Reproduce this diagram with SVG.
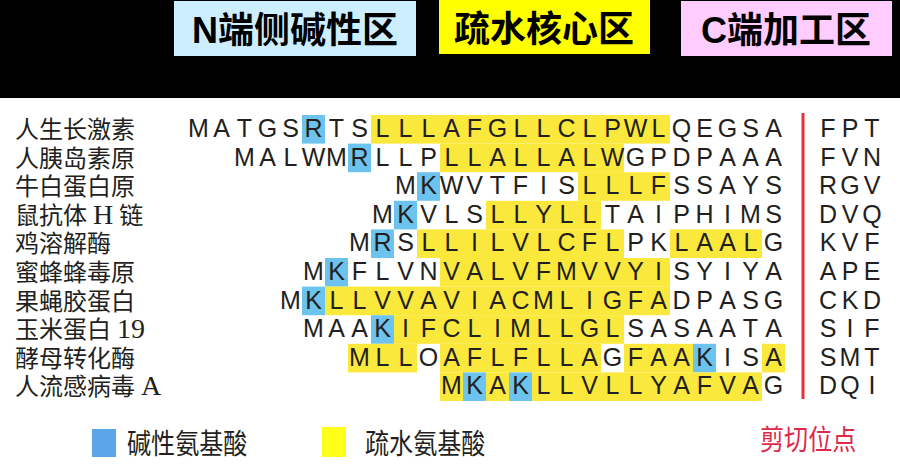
<svg xmlns="http://www.w3.org/2000/svg" width="900" height="471" viewBox="0 0 900 471">
<style>
.hd{font-family:"Liberation Sans","Noto Sans CJK SC",sans-serif;font-size:36px;font-weight:bold;fill:#000;text-anchor:middle}
.lb{font-family:"Liberation Serif","Noto Sans CJK SC",serif;font-size:24px;fill:#231f20}
.lt{font-size:28px}
.sq{font-family:"Liberation Sans",Arial,sans-serif;font-size:25px;fill:#231f20;text-anchor:middle}
.y{fill:#fbe83c}
.b{fill:#6cc4ee}
.lg{font-family:"Noto Sans CJK SC",sans-serif;font-size:28px;fill:#231f20}
</style>
<rect x="0" y="0" width="900" height="471" fill="#fff"/>
<rect x="0" y="0" width="900" height="98" fill="#000"/>
<g id="header-n"><rect x="174" y="1" width="242" height="55" fill="#cceeff"/><text class="hd" x="295" y="43">N端侧碱性区</text></g>
<g id="header-core"><rect x="439" y="0" width="211" height="54" fill="#ffff00"/><text class="hd" x="544" y="42">疏水核心区</text></g>
<g id="header-c"><rect x="681" y="1" width="211" height="55" fill="#ffccff"/><text class="hd" x="786" y="43">C端加工区</text></g>

<g id="row1" transform="translate(0,115)">
<rect class="y" x="371" y="0" width="299" height="28.6"/><rect class="b" x="302" y="0" width="23" height="28.6"/>
<text class="lb" x="15" y="23">人生长激素</text>
<text class="sq" y="22" x="198.5 221.5 244.5 267.5 290.5 313.5 336.5 359.5 382.5 405.5 428.5 451.5 474.5 497.5 520.5 543.5 566.5 589.5 612.5 635.5 658.5 681.5 704.5 727.5 750.5 773.5">MATGSRTSLLLAFGLLCLPWLQEGSA</text>
<text class="sq" y="22" x="828 850 872">FPT</text>
</g>
<g id="row2" transform="translate(0,143.6)">
<rect class="y" x="440" y="0" width="184" height="28.6"/><rect class="b" x="348" y="0" width="23" height="28.6"/>
<text class="lb" x="15" y="23">人胰岛素原</text>
<text class="sq" y="22" x="244.5 267.5 290.5 313.5 336.5 359.5 382.5 405.5 428.5 451.5 474.5 497.5 520.5 543.5 566.5 589.5 612.5 635.5 658.5 681.5 704.5 727.5 750.5 773.5">MALWMRLLPLLALLALWGPDPAAA</text>
<text class="sq" y="22" x="828 850 872">FVN</text>
</g>
<g id="row3" transform="translate(0,172.2)">
<rect class="y" x="578" y="0" width="92" height="28.6"/><rect class="b" x="417" y="0" width="23" height="28.6"/>
<text class="lb" x="15" y="23">牛白蛋白原</text>
<text class="sq" y="22" x="405.5 428.5 451.5 474.5 497.5 520.5 543.5 566.5 589.5 612.5 635.5 658.5 681.5 704.5 727.5 750.5 773.5">MKWVTFISLLLFSSAYS</text>
<text class="sq" y="22" x="828 850 872">RGV</text>
</g>
<g id="row4" transform="translate(0,200.8)">
<rect class="y" x="486" y="0" width="115" height="28.6"/><rect class="b" x="394" y="0" width="23" height="28.6"/>
<text class="lb" x="15" y="23">鼠抗体 <tspan class="lt">H</tspan> 链</text>
<text class="sq" y="22" x="382.5 405.5 428.5 451.5 474.5 497.5 520.5 543.5 566.5 589.5 612.5 635.5 658.5 681.5 704.5 727.5 750.5 773.5">MKVLSLLYLLTAIPHIMS</text>
<text class="sq" y="22" x="828 850 872">DVQ</text>
</g>
<g id="row5" transform="translate(0,229.4)">
<rect class="y" x="417" y="0" width="207" height="28.6"/><rect class="y" x="670" y="0" width="92" height="28.6"/><rect class="b" x="371" y="0" width="23" height="28.6"/>
<text class="lb" x="15" y="23">鸡溶解酶</text>
<text class="sq" y="22" x="359.5 382.5 405.5 428.5 451.5 474.5 497.5 520.5 543.5 566.5 589.5 612.5 635.5 658.5 681.5 704.5 727.5 750.5 773.5">MRSLLILVLCFLPKLAALG</text>
<text class="sq" y="22" x="828 850 872">KVF</text>
</g>
<g id="row6" transform="translate(0,258)">
<rect class="y" x="440" y="0" width="230" height="28.6"/><rect class="b" x="325" y="0" width="23" height="28.6"/>
<text class="lb" x="15" y="23">蜜蜂蜂毒原</text>
<text class="sq" y="22" x="313.5 336.5 359.5 382.5 405.5 428.5 451.5 474.5 497.5 520.5 543.5 566.5 589.5 612.5 635.5 658.5 681.5 704.5 727.5 750.5 773.5">MKFLVNVALVFMVVYISYIYA</text>
<text class="sq" y="22" x="828 850 872">APE</text>
</g>
<g id="row7" transform="translate(0,286.6)">
<rect class="y" x="325" y="0" width="345" height="28.6"/><rect class="b" x="302" y="0" width="23" height="28.6"/>
<text class="lb" x="15" y="23">果蝇胶蛋白</text>
<text class="sq" y="22" x="290.5 313.5 336.5 359.5 382.5 405.5 428.5 451.5 474.5 497.5 520.5 543.5 566.5 589.5 612.5 635.5 658.5 681.5 704.5 727.5 750.5 773.5">MKLLVVAVIACMLIGFADPASG</text>
<text class="sq" y="22" x="828 850 872">CKD</text>
</g>
<g id="row8" transform="translate(0,315.2)">
<rect class="y" x="394" y="0" width="230" height="28.6"/><rect class="b" x="371" y="0" width="23" height="28.6"/>
<text class="lb" x="15" y="23">玉米蛋白 <tspan class="lt">19</tspan></text>
<text class="sq" y="22" x="313.5 336.5 359.5 382.5 405.5 428.5 451.5 474.5 497.5 520.5 543.5 566.5 589.5 612.5 635.5 658.5 681.5 704.5 727.5 750.5 773.5">MAAKIFCLIMLLGLSASAATA</text>
<text class="sq" y="22" x="828 850 872">SIF</text>
</g>
<g id="row9" transform="translate(0,343.8)">
<rect class="y" x="348" y="0" width="69" height="28.6"/><rect class="y" x="440" y="0" width="161" height="28.6"/><rect class="y" x="624" y="0" width="69" height="28.6"/><rect class="b" x="693" y="0" width="23" height="28.6"/><rect class="y" x="762" y="0" width="23" height="28.6"/>
<text class="lb" x="15" y="23">酵母转化酶</text>
<text class="sq" y="22" x="359.5 382.5 405.5 428.5 451.5 474.5 497.5 520.5 543.5 566.5 589.5 612.5 635.5 658.5 681.5 704.5 727.5 750.5 773.5">MLLOAFLFLLAGFAAKISA</text>
<text class="sq" y="22" x="828 850 872">SMT</text>
</g>
<g id="row10" transform="translate(0,372.4)">
<rect class="y" x="440" y="0" width="23" height="28.6"/><rect class="b" x="463" y="0" width="23" height="28.6"/><rect class="y" x="486" y="0" width="23" height="28.6"/><rect class="b" x="509" y="0" width="23" height="28.6"/><rect class="y" x="532" y="0" width="230" height="28.6"/>
<text class="lb" x="15" y="23">人流感病毒 <tspan class="lt">A</tspan></text>
<text class="sq" y="22" x="451.5 474.5 497.5 520.5 543.5 566.5 589.5 612.5 635.5 658.5 681.5 704.5 727.5 750.5 773.5">MKAKLLVLLYAFVAG</text>
<text class="sq" y="22" x="828 850 872">DQI</text>
</g>

<g id="cleavage-line"><line x1="803" y1="113" x2="803" y2="399" stroke="#e8303a" stroke-width="3"/></g>

<g id="legend">
<rect x="92" y="429" width="24" height="28" fill="#5ba6e8"/>
<text class="lg" transform="translate(127,454) scale(0.86,1)">碱性氨基酸</text>
<rect x="322" y="427" width="24" height="30" fill="#ffff1a"/>
<text class="lg" transform="translate(365,454) scale(0.86,1)">疏水氨基酸</text>
<text class="lg" transform="translate(760,450) scale(0.86,1)" style="fill:#e0284a">剪切位点</text>
</g>
</svg>
